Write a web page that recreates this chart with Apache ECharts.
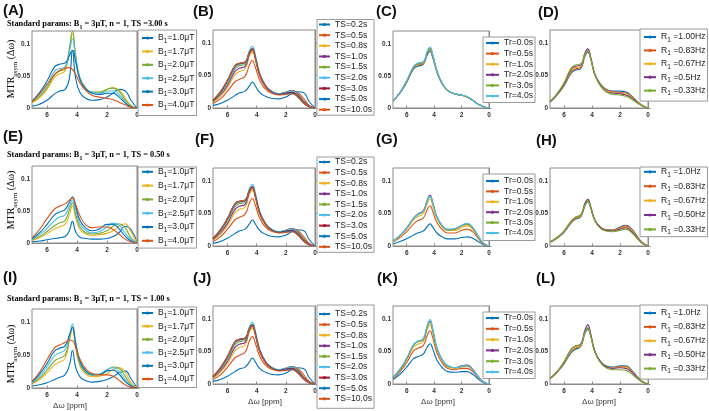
<!DOCTYPE html>
<html><head><meta charset="utf-8">
<script src="https://cdn.jsdelivr.net/npm/echarts@6/dist/echarts.min.js"></script>
<style>html,body{margin:0;padding:0;background:#fff}#c{width:709px;height:411px}</style>
</head><body><div id="c"></div><script>
// ---------- shared x grid (ppm) ----------
const xPpm = [7, 6.5, 6, 5.5, 5.2, 4.8, 4.5, 4.3, 4.1, 3.8, 3.4, 3.0, 2.5, 2.0, 1.6, 1.2, 0.8, 0.4, 0];

// ---------- names ----------
const b1Names = ['B1=1.0μT','B1=1.7μT','B1=2.0μT','B1=2.5μT','B1=3.0μT','B1=4.0μT'];
const tsNames = ['TS=0.2s','TS=0.5s','TS=0.8s','TS=1.0s','TS=1.5s','TS=2.0s','TS=3.0s','TS=5.0s','TS=10.0s'];
const trNames = ['Tr=0.0s','Tr=0.5s','Tr=1.0s','Tr=2.0s','Tr=3.0s','Tr=4.0s'];
const r1NamesD = ['R1 =1.00Hz','R1 =0.83Hz','R1 =0.67Hz','R1 =0.5Hz','R1 =0.33Hz'];
const r1NamesHL = ['R1 =1.0Hz','R1 =0.83Hz','R1 =0.67Hz','R1 =0.50Hz','R1 =0.33Hz'];
const panelLetters = ['(A)','(B)','(C)','(D)','(E)','(F)','(G)','(H)','(I)','(J)','(K)','(L)'];
const titleTS = ['TS =3.00 s','TS = 0.50 s','TS = 1.00 s'];

// ---------- colours ----------
const BLUE='#0072BD', ORANGE='#D95319', YELLOW='#EDB120', PURPLE='#7E2F8E', GREEN='#77AC30', CYAN='#4DBEEE', DARKRED='#A2142F';
const b1Colors = [BLUE, YELLOW, GREEN, CYAN, BLUE, ORANGE];
const tsColors = [BLUE, ORANGE, YELLOW, PURPLE, GREEN, CYAN, DARKRED, BLUE, ORANGE];
const trColors = [BLUE, ORANGE, YELLOW, PURPLE, GREEN, CYAN];
const r1Colors = [BLUE, ORANGE, YELLOW, PURPLE, GREEN];

// ---------- (A) TS=3.00 s, B1 varied ----------
const aB10 = [0.003,0.006,0.012,0.022,0.026,0.029,0.048,0.090,0.048,0.024,0.015,0.012,0.013,0.017,0.023,0.029,0.027,0.012,0];
const aB17 = [0.008,0.016,0.029,0.048,0.053,0.058,0.090,0.116,0.080,0.045,0.030,0.024,0.024,0.029,0.032,0.028,0.016,0.004,0];
const aB20 = [0.009,0.018,0.032,0.052,0.057,0.061,0.095,0.120,0.085,0.047,0.031,0.025,0.025,0.029,0.031,0.026,0.013,0.003,0];
const aB25 = [0.010,0.021,0.036,0.057,0.061,0.064,0.088,0.108,0.080,0.045,0.030,0.024,0.023,0.026,0.027,0.021,0.010,0.002,0];
const aB30 = [0.011,0.024,0.042,0.064,0.068,0.070,0.082,0.090,0.073,0.044,0.029,0.023,0.021,0.023,0.023,0.017,0.008,0.002,0];
const aB40 = [0.010,0.022,0.037,0.052,0.058,0.062,0.063,0.060,0.053,0.039,0.027,0.020,0.017,0.015,0.013,0.009,0.005,0.001,0];

// ---------- (B),(F),(J) TS varied ----------
const tsV02  = [0.004,0.007,0.012,0.019,0.023,0.026,0.034,0.040,0.034,0.024,0.018,0.015,0.014,0.017,0.022,0.025,0.024,0.010,0];
const tsV05  = [0.007,0.014,0.026,0.040,0.044,0.049,0.066,0.073,0.063,0.043,0.029,0.023,0.021,0.023,0.026,0.024,0.015,0.004,0];
const tsV08  = [0.009,0.018,0.032,0.051,0.056,0.060,0.080,0.086,0.075,0.050,0.033,0.025,0.022,0.024,0.027,0.023,0.012,0.003,0];
const tsV10  = [0.010,0.020,0.035,0.056,0.061,0.064,0.083,0.089,0.078,0.052,0.034,0.026,0.022,0.024,0.027,0.022,0.011,0.003,0];
const tsV15  = [0.010,0.022,0.038,0.060,0.065,0.067,0.087,0.092,0.080,0.053,0.034,0.026,0.022,0.024,0.026,0.021,0.010,0.002,0];
const tsV20  = [0.011,0.023,0.040,0.062,0.067,0.069,0.089,0.095,0.082,0.054,0.035,0.026,0.022,0.024,0.026,0.020,0.009,0.002,0];
const tsV30  = [0.011,0.024,0.042,0.064,0.068,0.070,0.085,0.091,0.078,0.052,0.034,0.025,0.021,0.023,0.024,0.019,0.009,0.002,0];
const tsV50  = [0.012,0.025,0.043,0.065,0.069,0.071,0.085,0.090,0.077,0.051,0.033,0.025,0.021,0.022,0.023,0.018,0.008,0.002,0];
const tsV100 = [0.012,0.025,0.043,0.065,0.069,0.071,0.084,0.089,0.076,0.050,0.033,0.024,0.020,0.021,0.022,0.017,0.008,0.002,0];

// ---------- (C) Tr varied ----------
const cTr00 = [0.011,0.023,0.040,0.061,0.065,0.068,0.083,0.088,0.078,0.056,0.037,0.027,0.022,0.020,0.017,0.012,0.006,0.002,0];
const cTr05 = [0.011,0.023,0.041,0.062,0.067,0.069,0.085,0.090,0.080,0.057,0.037,0.027,0.022,0.020,0.017,0.012,0.006,0.002,0];
const cTr10 = [0.011,0.024,0.042,0.063,0.068,0.070,0.086,0.091,0.081,0.057,0.038,0.027,0.022,0.020,0.017,0.012,0.006,0.002,0];
const cTr20 = [0.011,0.024,0.042,0.064,0.069,0.071,0.087,0.093,0.082,0.058,0.038,0.027,0.022,0.020,0.017,0.012,0.006,0.002,0];
const cTr30 = [0.011,0.024,0.042,0.064,0.069,0.071,0.087,0.093,0.082,0.058,0.038,0.027,0.022,0.020,0.017,0.012,0.006,0.002,0];
const cTr40 = [0.011,0.024,0.043,0.065,0.070,0.072,0.089,0.095,0.083,0.058,0.038,0.027,0.022,0.020,0.018,0.012,0.006,0.002,0];

// ---------- (D) R1 varied ----------
const dR100 = [0.009,0.020,0.034,0.053,0.058,0.061,0.080,0.086,0.076,0.052,0.037,0.029,0.026,0.026,0.025,0.019,0.011,0.004,0];
const dR083 = [0.009,0.020,0.035,0.055,0.060,0.063,0.082,0.088,0.077,0.052,0.036,0.028,0.025,0.024,0.023,0.018,0.010,0.004,0];
const dR067 = [0.010,0.021,0.036,0.057,0.062,0.064,0.083,0.089,0.078,0.052,0.035,0.027,0.024,0.023,0.022,0.017,0.010,0.004,0];
const dR050 = [0.010,0.021,0.037,0.059,0.064,0.066,0.085,0.091,0.079,0.052,0.035,0.026,0.023,0.022,0.020,0.016,0.009,0.003,0];
const dR033 = [0.010,0.022,0.039,0.061,0.066,0.068,0.084,0.088,0.077,0.051,0.034,0.025,0.021,0.020,0.018,0.014,0.008,0.003,0];

// ---------- (E) TS=0.50 s, B1 varied ----------
const eB10 = [0.002,0.003,0.005,0.007,0.008,0.010,0.020,0.034,0.018,0.009,0.007,0.006,0.006,0.007,0.010,0.016,0.026,0.021,0];
const eB17 = [0.004,0.008,0.015,0.022,0.025,0.029,0.045,0.058,0.040,0.021,0.014,0.012,0.013,0.015,0.019,0.026,0.030,0.017,0];
const eB20 = [0.005,0.010,0.018,0.027,0.031,0.035,0.052,0.063,0.046,0.025,0.016,0.014,0.015,0.019,0.026,0.030,0.024,0.008,0];
const eB25 = [0.006,0.013,0.023,0.035,0.040,0.044,0.058,0.067,0.052,0.030,0.019,0.016,0.018,0.025,0.031,0.028,0.016,0.005,0];
const eB30 = [0.007,0.016,0.029,0.044,0.048,0.052,0.064,0.072,0.058,0.035,0.023,0.019,0.022,0.029,0.029,0.022,0.011,0.003,0];
const eB40 = [0.008,0.021,0.038,0.053,0.057,0.061,0.067,0.070,0.061,0.042,0.028,0.024,0.025,0.025,0.021,0.014,0.006,0.002,0];

// ---------- (G) Tr varied, TS=0.5 ----------
const gTr00 = [0.003,0.007,0.011,0.017,0.020,0.023,0.030,0.034,0.029,0.020,0.014,0.011,0.011,0.013,0.014,0.012,0.007,0.002,0];
const gTr05 = [0.006,0.013,0.022,0.034,0.039,0.043,0.056,0.062,0.053,0.036,0.025,0.020,0.020,0.024,0.026,0.022,0.012,0.003,0];
const gTr10 = [0.007,0.015,0.026,0.040,0.045,0.050,0.065,0.072,0.062,0.042,0.029,0.024,0.024,0.028,0.031,0.026,0.014,0.004,0];
const gTr20 = [0.008,0.016,0.028,0.043,0.049,0.054,0.071,0.078,0.067,0.045,0.031,0.025,0.026,0.031,0.034,0.028,0.015,0.004,0];
const gTr30 = [0.008,0.016,0.028,0.042,0.048,0.053,0.069,0.076,0.066,0.044,0.030,0.025,0.026,0.031,0.033,0.028,0.015,0.004,0];
const gTr40 = [0.008,0.016,0.028,0.043,0.048,0.053,0.069,0.076,0.066,0.045,0.031,0.026,0.027,0.032,0.035,0.029,0.016,0.004,0];

// ---------- (H) R1 varied, TS=0.5 ----------
const hR100 = [0.006,0.012,0.021,0.035,0.041,0.045,0.062,0.068,0.059,0.040,0.029,0.025,0.025,0.029,0.032,0.027,0.016,0.005,0];
const hR083 = [0.006,0.012,0.022,0.036,0.042,0.046,0.064,0.070,0.060,0.040,0.029,0.025,0.024,0.028,0.031,0.026,0.015,0.005,0];
const hR067 = [0.006,0.013,0.022,0.037,0.043,0.047,0.065,0.071,0.061,0.040,0.028,0.024,0.024,0.027,0.029,0.025,0.014,0.004,0];
const hR050 = [0.006,0.013,0.023,0.038,0.044,0.048,0.066,0.072,0.061,0.040,0.028,0.024,0.023,0.026,0.028,0.023,0.013,0.004,0];
const hR033 = [0.006,0.013,0.023,0.038,0.044,0.048,0.064,0.069,0.059,0.039,0.027,0.023,0.022,0.024,0.026,0.021,0.012,0.004,0];

// ---------- (I) TS=1.00 s, B1 varied ----------
const iB10 = [0.003,0.005,0.008,0.013,0.016,0.020,0.035,0.057,0.033,0.017,0.011,0.009,0.010,0.013,0.017,0.023,0.026,0.014,0];
const iB17 = [0.006,0.013,0.023,0.035,0.039,0.045,0.072,0.090,0.062,0.033,0.021,0.017,0.018,0.022,0.028,0.031,0.024,0.008,0];
const iB20 = [0.007,0.015,0.027,0.041,0.045,0.050,0.076,0.093,0.066,0.036,0.023,0.019,0.020,0.026,0.032,0.030,0.018,0.005,0];
const iB25 = [0.008,0.018,0.032,0.049,0.053,0.058,0.080,0.097,0.070,0.039,0.025,0.020,0.021,0.028,0.031,0.025,0.013,0.003,0];
const iB30 = [0.009,0.021,0.037,0.056,0.060,0.064,0.081,0.092,0.070,0.041,0.026,0.021,0.021,0.026,0.027,0.021,0.010,0.003,0];
const iB40 = [0.010,0.024,0.043,0.061,0.065,0.069,0.073,0.072,0.063,0.044,0.029,0.022,0.020,0.020,0.018,0.012,0.005,0.001,0];

// ---------- (K) Tr varied, TS=1.0 ----------
const kTr00 = [0.007,0.015,0.026,0.039,0.042,0.046,0.057,0.062,0.054,0.037,0.025,0.019,0.018,0.019,0.019,0.015,0.008,0.002,0];
const kTr05 = [0.009,0.019,0.033,0.051,0.055,0.059,0.075,0.082,0.071,0.048,0.032,0.024,0.022,0.024,0.024,0.019,0.010,0.003,0];
const kTr10 = [0.010,0.021,0.037,0.057,0.061,0.065,0.084,0.091,0.079,0.053,0.035,0.026,0.024,0.026,0.027,0.021,0.011,0.003,0];
const kTr20 = [0.010,0.022,0.039,0.060,0.065,0.068,0.089,0.096,0.083,0.056,0.037,0.028,0.025,0.028,0.029,0.023,0.012,0.003,0];
const kTr30 = [0.010,0.022,0.039,0.060,0.065,0.068,0.088,0.095,0.082,0.055,0.036,0.027,0.025,0.027,0.028,0.022,0.011,0.003,0];
const kTr40 = [0.011,0.023,0.040,0.061,0.066,0.070,0.091,0.099,0.085,0.057,0.037,0.028,0.025,0.027,0.028,0.022,0.011,0.003,0];

// ---------- (L) R1 varied, TS=1.0 ----------
const lR100 = [0.008,0.018,0.031,0.048,0.053,0.058,0.078,0.084,0.074,0.050,0.035,0.028,0.026,0.028,0.028,0.022,0.012,0.004,0];
const lR083 = [0.008,0.018,0.032,0.050,0.055,0.059,0.080,0.086,0.075,0.050,0.034,0.027,0.025,0.027,0.027,0.021,0.011,0.004,0];
const lR067 = [0.008,0.019,0.033,0.051,0.056,0.060,0.081,0.087,0.076,0.050,0.034,0.026,0.025,0.026,0.026,0.020,0.011,0.004,0];
const lR050 = [0.009,0.019,0.034,0.053,0.058,0.062,0.083,0.091,0.078,0.051,0.034,0.026,0.024,0.025,0.024,0.019,0.010,0.003,0];
const lR033 = [0.009,0.019,0.034,0.053,0.058,0.061,0.080,0.086,0.075,0.049,0.033,0.025,0.022,0.022,0.021,0.016,0.009,0.003,0];

// ---------- panel assembly ----------
const panelData = [
  {names:b1Names, colors:b1Colors, values:[aB10,aB17,aB20,aB25,aB30,aB40]},
  {names:tsNames, colors:tsColors, values:[tsV02,tsV05,tsV08,tsV10,tsV15,tsV20,tsV30,tsV50,tsV100]},
  {names:trNames, colors:trColors, values:[cTr00,cTr05,cTr10,cTr20,cTr30,cTr40]},
  {names:r1NamesD, colors:r1Colors, values:[dR100,dR083,dR067,dR050,dR033]},
  {names:b1Names, colors:b1Colors, values:[eB10,eB17,eB20,eB25,eB30,eB40]},
  {names:tsNames, colors:tsColors, values:[tsV02,tsV05,tsV08,tsV10,tsV15,tsV20,tsV30,tsV50,tsV100]},
  {names:trNames, colors:trColors, values:[gTr00,gTr05,gTr10,gTr20,gTr30,gTr40]},
  {names:r1NamesHL, colors:r1Colors, values:[hR100,hR083,hR067,hR050,hR033]},
  {names:b1Names, colors:b1Colors, values:[iB10,iB17,iB20,iB25,iB30,iB40]},
  {names:tsNames, colors:tsColors, values:[tsV02,tsV05,tsV08,tsV10,tsV15,tsV20,tsV30,tsV50,tsV100]},
  {names:trNames, colors:trColors, values:[kTr00,kTr05,kTr10,kTr20,kTr30,kTr40]},
  {names:r1NamesHL, colors:r1Colors, values:[lR100,lR083,lR067,lR050,lR033]}
];

// layout (positions only)
const gridBoxes = [
  [32,31,105,77],[213,30,102,78],[393,31,96,77],[550,30,98,78],
  [32,166,105,77],[213,168,102,78],[393,168,96,78],[550,168,98,78],
  [32,309,105,79],[213,306,102,78],[393,306,96,78],[550,306,98,78]
];
// legend: left, top, padTop, step, itemWidth, padLeft, itemHeightMeasured
const legendBoxes = [
  [138,30,3.5,13,11,3,10.6],[317,19.5,0.5,10.65,11,1,9],[483,37,1.5,10.6,13,2,9],[640,29,3.5,13,12,3,10.6],
  [138,167,0.3,13.4,11,3,10.6],[317,157,0.5,10.6,11,1,9],[483,174,2.5,10.4,13,2,9],[640,167,0.3,14,12,3,10.6],
  [138,307,1.5,12.8,11,3,10.6],[317,305,4.5,10.6,11,1,9],[483,312,1.5,10.8,13,2,9],[640,305,3.5,13.5,12,3,10.6]
];
const labelPos = [
  [3,11],[193,12],[376,12],[538,13],
  [3,137],[195,140],[376,140],[536,141],
  [3,278],[193,279],[377,279],[536,279]
];

const AX = '#8a8a8a';
const grids=[], xAxes=[], yAxes=[], series=[], legends=[], graphics=[];

function legendFmt(name){
  const m = name.match(/^([BR])1(.*)$/);
  if (m) return '{m|' + m[1] + '}{s|1}{m|' + m[2] + '}';
  return '{m|' + name + '}';
}

panelData.forEach((p, i) => {
  const g = gridBoxes[i];
  grids.push({left:g[0], top:g[1], width:g[2], height:g[3], show:true, borderColor:AX, borderWidth:1, backgroundColor:'#fff'});
  xAxes.push({gridIndex:i, type:'value', min:0, max:7, interval:2, inverse:true,
    axisLine:{show:true, lineStyle:{color:AX}},
    axisTick:{show:true, inside:true, length:2.5, lineStyle:{color:AX}},
    splitLine:{show:false},
    axisLabel:{showMaxLabel:false, fontSize:6.5, fontWeight:'bold', color:'#333', margin:4, fontFamily:'Liberation Sans'}});
  yAxes.push({gridIndex:i, type:'value', min:0, max:0.12, interval:0.05,
    axisLine:{show:true, lineStyle:{color:AX}},
    axisTick:{show:true, inside:true, length:2.5, lineStyle:{color:AX}},
    splitLine:{show:false},
    axisLabel:{showMaxLabel:false, fontSize:6.5, fontWeight:'bold', color:'#333', margin:2, fontFamily:'Liberation Sans'}});
  p.values.forEach((vals, k) => {
    series.push({type:'line', name:p.names[k], xAxisIndex:i, yAxisIndex:i,
      data: xPpm.map((x, j) => [x, vals[j]]),
      smooth:0.5, showSymbol:false, symbol:'circle', symbolSize:2,
      lineStyle:{width:1.1, color:p.colors[k]}, itemStyle:{color:p.colors[k]},
      emphasis:{disabled:true}, silent:true});
  });
  const L = legendBoxes[i];
  const lh = 9;
  legends.push({orient:'vertical', left:L[0], top:L[1], padding:[L[2],2,L[2]+0.5,L[5]],
    itemGap:L[3]-L[6], itemWidth:L[4], itemHeight:4, selectedMode:false,
    borderColor:'#9a9a9a', borderWidth:1, backgroundColor:'#fff',
    data:p.names, formatter:legendFmt,
    textStyle:{rich:{
      m:{fontSize:8.6, lineHeight:lh, fontFamily:'Liberation Sans', color:'#222'},
      s:{fontSize:6.5, lineHeight:lh, height:3, verticalAlign:'bottom', fontFamily:'Liberation Sans', color:'#222'}
    }}});
  graphics.push({type:'text', left:labelPos[i][0], top:labelPos[i][1]-8,
    style:{text:panelLetters[i], font:'bold 15px "Liberation Sans"', fill:'#111'}});
});

// titles & y labels (left column)
const rowTitleY = [24, 155, 299];
const rowYLabelY = [69, 200, 354];
const serif = '"Liberation Serif", "DejaVu Serif", serif';
rowTitleY.forEach((ty, r) => {
  graphics.push({type:'text', x:7, y:ty,
    style:{text:'{t|Standard params: B}{s|1}{t| = 3μT, n = 1, ' + titleTS[r] + '}',
      align:'left', verticalAlign:'middle', textAlign:'left', textVerticalAlign:'middle',
      rich:{t:{fontFamily:serif, fontWeight:'bold', fontSize:8.3, lineHeight:10, color:'#111'},
            s:{fontFamily:serif, fontWeight:'bold', fontSize:6, lineHeight:10, height:3, verticalAlign:'bottom', color:'#111'}}}});
  graphics.push({type:'text', x:11.5, y:rowYLabelY[r], rotation:Math.PI/2,
    style:{text:'{t|MTR}{s|asym}{t| (Δω)}',
      align:'center', verticalAlign:'middle', textAlign:'center', textVerticalAlign:'middle',
      rich:{t:{fontFamily:serif, fontSize:10, lineHeight:12, color:'#111'},
            s:{fontFamily:serif, fontSize:7, lineHeight:12, height:4, verticalAlign:'bottom', color:'#111'}}}});
});
// x labels bottom row
[[70,406],[265,402],[438,402],[599,402]].forEach(pos => {
  graphics.push({type:'text', x:pos[0], y:pos[1],
    style:{text:'Δω [ppm]', align:'center', verticalAlign:'middle', textAlign:'center', textVerticalAlign:'middle',
      font:'8px "Liberation Sans"', fill:'#333'}});
});

const chart = echarts.init(document.getElementById('c'), null, {renderer:'canvas'});
chart.setOption({
  animation:false,
  backgroundColor:'#fff',
  textStyle:{fontFamily:'Liberation Sans'},
  grid:grids, xAxis:xAxes, yAxis:yAxes, legend:legends, series:series, graphic:graphics
});
</script></body></html>
